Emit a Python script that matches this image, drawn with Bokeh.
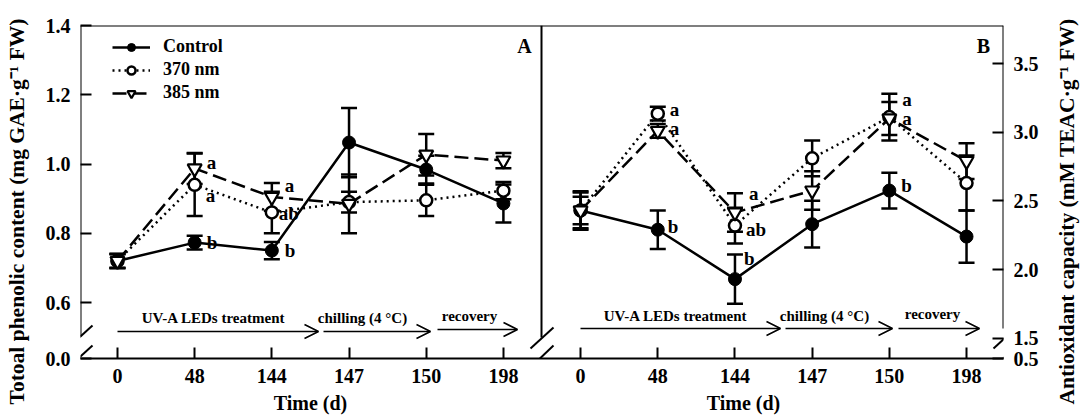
import math
from bokeh.plotting import figure
from bokeh.layouts import row
from bokeh.models import (Range1d, LinearAxis, FixedTicker, ColumnDataSource, Whisker,
                          TeeHead, Arrow, OpenHead, Label, Legend, LegendItem)
from bokeh.embed import file_html
from bokeh.resources import INLINE
from bokeh.core.properties import value

# ---------------- data ----------------
days = ["0", "48", "144", "147", "150", "198"]

# Panel A: total phenolic content (mg GAE g-1 FW)
phen_control = [0.72, 0.773, 0.75, 1.062, 0.984, 0.886]
phen_control_err = [0.02, 0.02, 0.025, 0.10, 0.04, 0.055]
phen_370 = [0.72, 0.94, 0.86, 0.89, 0.895, 0.923]
phen_370_err = [0.02, 0.09, 0.06, 0.03, 0.045, 0.025]
phen_385 = [0.72, 0.987, 0.905, 0.885, 1.027, 1.01]
phen_385_err = [0.02, 0.045, 0.04, 0.085, 0.06, 0.022]

# Panel B: antioxidant capacity (mM TEAC g-1 FW)
anti_control = [2.43, 2.29, 1.93, 2.33, 2.575, 2.24]
anti_control_err = [0.14, 0.14, 0.18, 0.17, 0.13, 0.19]
anti_370 = [2.43, 3.135, 2.32, 2.81, 3.11, 2.63]
anti_370_err = [0.13, 0.05, 0.13, 0.13, 0.17, 0.20]
anti_385 = [2.43, 3.01, 2.415, 2.575, 3.10, 2.79]
anti_385_err = [0.10, 0.05, 0.14, 0.14, 0.12, 0.13]

# significance letters
sigA_idx = [1, 1, 1, 2, 2, 2]
sigA_y = [1.004, 0.909, 0.773, 0.938, 0.857, 0.750]
sigA_text = ["a", "a", "b", "a", "ab", "b"]
sigA_dx = [12, 11, 12, 13, 7, 13]

sigB_idx = [1, 1, 1, 2, 2, 2, 4, 4, 4]
sigB_y = [3.165, 3.027, 2.313, 2.553, 2.291, 2.080, 3.238, 3.10, 2.612]
sigB_text = ["a", "a", "b", "a", "ab", "b", "a", "a", "b"]
sigB_dx = [12, 12, 10, 14, 11, 9, 13, 13, 12]

phases = ["UV-A LEDs treatment", "chilling (4 \u00b0C)", "recovery"]
xlabel = "Time (d)"
ylabel_left = "Totoal phenolic content (mg GAE\u00b7g\u207b\u00b9 FW)"
ylabel_right = "Antioxidant capacity (mM TEAC\u00b7g\u207b\u00b9 FW)"

# ---------------- layout ----------------
FONT = "Liberation Serif"
XMIN, XMAX = -0.479, 11.479
YL0, YL1 = 0.4383, 1.4
YR0, YR1 = 1.352, 3.777
FL, FR, FT, FB = 80, 1003, 25, 358
H = 416


def X(px):
    return XMIN + (px - FL) / (FR - FL) * (XMAX - XMIN)


def YL(py):
    return YL1 - (py - FT) / (FB - FT) * (YL1 - YL0)


p = figure(width=1050, height=H, output_backend="svg", toolbar_location=None,
           x_range=Range1d(XMIN, XMAX), y_range=Range1d(YL0, YL1),
           min_border_left=80, min_border_right=47, min_border_top=FT, min_border_bottom=H - FB)
p.extra_y_ranges = {"right": Range1d(YR0, YR1)}
p.outline_line_color = None
p.grid.visible = False
p.background_fill_color = "white"

idxA = list(range(6))
idxB = [i + 6 for i in range(6)]

# x axis
xa = p.xaxis[0]
xa.ticker = FixedTicker(ticks=idxA + idxB)
xa.major_label_overrides = {i: days[i % 6] for i in range(12)}
# y left
ya = p.yaxis[0]
lt = [YL0, 0.6, 0.8, 1.0, 1.2, 1.4]
ya.ticker = FixedTicker(ticks=lt)
ya.major_label_overrides = {YL0: "0.0", 0.6: "0.6", 0.8: "0.8", 1.0: "1.0", 1.2: "1.2", 1.4: "1.4"}
ya.axis_line_color = None
# y right
yr = LinearAxis(y_range_name="right")
rt = [YR0, 1.5, 2.0, 2.5, 3.0, 3.5]
yr.ticker = FixedTicker(ticks=rt)
yr.major_label_overrides = {YR0: "0.5", 1.5: "1.5", 2.0: "2.0", 2.5: "2.5", 3.0: "3.0", 3.5: "3.5"}
yr.axis_line_color = None
p.add_layout(yr, "right")

for ax in [xa, ya, yr]:
    ax.major_tick_in = 11
    ax.major_tick_out = 0
    ax.minor_tick_line_color = None
    ax.major_tick_line_width = 2
    ax.major_tick_line_color = "black"
    ax.axis_line_width = 2
    ax.major_label_text_font = FONT
    ax.major_label_text_font_style = "bold"
    ax.major_label_text_font_size = "20px"
    ax.major_label_text_color = "black"
    ax.major_label_standoff = 10
xa.axis_line_color = "black"


def title_axis(ax, size, standoff):
    ax.axis_line_color = None
    ax.major_tick_line_color = None
    ax.minor_tick_line_color = None
    ax.major_tick_in = 0
    ax.major_tick_out = 0
    ax.major_label_text_font = FONT
    ax.major_label_text_font_style = "bold"
    ax.major_label_text_color = "black"
    ax.major_label_text_font_size = size
    ax.major_label_standoff = standoff


# axis titles as outer label-only axes (precise placement)
tx = LinearAxis(ticker=FixedTicker(ticks=[X(310), X(743)]),
                major_label_overrides={X(310): xlabel, X(743): xlabel})
title_axis(tx, "20px", 6)
tyl = LinearAxis(ticker=FixedTicker(ticks=[YL(211)]), major_label_overrides={YL(211): ylabel_left},
                 major_label_orientation="vertical")
title_axis(tyl, "21.5px", 14)
p.add_layout(tx, "below")
p.add_layout(tyl, "left")

# ---------------- series ----------------
styles = {"c": "solid", "370": "2 4", "385": "14 6"}


def draw(xs, ys, errs, kind, rng):
    kw = {} if rng is None else {"y_range_name": rng}
    ln = p.line(xs, ys, line_color="black", line_width=2.5, line_dash=styles[kind], **kw)
    if kind == "c":
        mk = p.scatter(xs, ys, marker="circle", size=13, fill_color="black", line_color="black", **kw)
    elif kind == "370":
        mk = p.scatter(xs, ys, marker="circle", size=12, fill_color="white", line_color="black",
                       line_width=2.5, **kw)
    else:
        mk = p.scatter(xs, ys, marker="inverted_triangle", size=14, fill_color="white",
                       line_color="black", line_width=2.2, **kw)
    src = ColumnDataSource(dict(x=xs, lo=[y - e for y, e in zip(ys, errs)],
                                hi=[y + e for y, e in zip(ys, errs)]))
    w = Whisker(base="x", lower="lo", upper="hi", source=src, line_width=2.5, line_color="black",
                upper_head=TeeHead(size=16, line_width=2.5, line_color="black"),
                lower_head=TeeHead(size=16, line_width=2.5, line_color="black"), **kw)
    p.add_layout(w)
    return ln, mk


lc = draw(idxA, phen_control, phen_control_err, "c", None)
l370 = draw(idxA, phen_370, phen_370_err, "370", None)
l385 = draw(idxA, phen_385, phen_385_err, "385", None)
draw(idxB, anti_control, anti_control_err, "c", "right")
draw(idxB, anti_370, anti_370_err, "370", "right")
draw(idxB, anti_385, anti_385_err, "385", "right")

legend = Legend(items=[LegendItem(label="Control", renderers=list(lc)),
                       LegendItem(label="370 nm", renderers=list(l370)),
                       LegendItem(label="385 nm", renderers=list(l385))],
                location=(32, 255), glyph_width=38, glyph_height=20, label_height=20, spacing=2,
                padding=0, margin=0, label_standoff=13, label_text_font=FONT,
                label_text_font_style="bold", label_text_font_size="18px",
                label_text_color="black",
                background_fill_alpha=0, border_line_color=None)
p.add_layout(legend)

# significance letters
p.text(x=sigA_idx, y=sigA_y, text=sigA_text, x_offset=sigA_dx, text_align="left",
       text_baseline="middle", text_font=value(FONT), text_font_style="bold",
       text_font_size="19px", text_color="black")
p.text(x=[i + 6 for i in sigB_idx], y=sigB_y, text=sigB_text, x_offset=sigB_dx,
       text_align="left", text_baseline="middle", text_font=value(FONT), text_font_style="bold",
       text_font_size="19px", text_color="black", y_range_name="right")


# ---------------- frame / breaks ----------------
def seg(x0, y0, x1, y1, w=2):
    p.add_layout(Arrow(end=None, x_start=X(x0), y_start=YL(y0), x_end=X(x1), y_end=YL(y1),
                       line_width=w, line_color="black"))


seg(FL, FT, FR, FT)          # top border
seg(FL, FT, FL, 336)         # left axis
seg(70, 345, 92, 325)
seg(68, 367, 92, 345)
seg(541, FT, 541, 337)       # panel divider
seg(530, 348, 553, 327)
seg(530, 367, 553, 345)
seg(FR, FT, FR, 328)         # right axis
seg(993, 348, 1015, 328)
seg(993, 367, 1015, 347)

# phase arrows
arrows = [(117, 318, 331), (323, 430, 331), (437, 517, 329),
          (580, 780, 328), (785, 892, 328), (898, 979, 328)]
for x0, x1, yy in arrows:
    p.add_layout(Arrow(end=OpenHead(size=14, line_width=1.6, line_color="black"),
                       x_start=X(x0), y_start=YL(yy), x_end=X(x1), y_end=YL(yy),
                       line_width=1.6, line_color="black"))
ph_pos = [(213, 317), (362, 317), (469, 315), (675, 315), (824, 315), (932, 313)]
for k, (xx, yy) in enumerate(ph_pos):
    p.add_layout(Label(x=X(xx), y=YL(yy), text=phases[k % 3], text_align="center",
                       text_baseline="middle", text_font=FONT, text_font_style="bold",
                       text_font_size="15px", text_color="black"))

for xx, yy, t in [(524, 45, "A"), (983, 45, "B")]:
    p.add_layout(Label(x=X(xx), y=YL(yy), text=t, text_align="center", text_baseline="middle",
                       text_font=FONT, text_font_style="bold", text_font_size="20px",
                       text_color="black"))

# ---------------- right title strip (reads bottom-to-top like the original) ----------------
p2 = figure(width=33, height=H, output_backend="svg", toolbar_location=None,
            x_range=Range1d(0, 1), y_range=Range1d(YL0, YL1),
            min_border_left=28, min_border_right=0, min_border_top=FT, min_border_bottom=H - FB)
p2.outline_line_color = None
p2.grid.visible = False
p2.xaxis.visible = False
t2 = p2.yaxis[0]
t2.ticker = FixedTicker(ticks=[YL(211)])
t2.major_label_overrides = {YL(211): ylabel_right}
t2.major_label_orientation = "vertical"
title_axis(t2, "21.5px", 0)

layout = row(p, p2)
open("out.html", "w").write(file_html(layout, INLINE))
